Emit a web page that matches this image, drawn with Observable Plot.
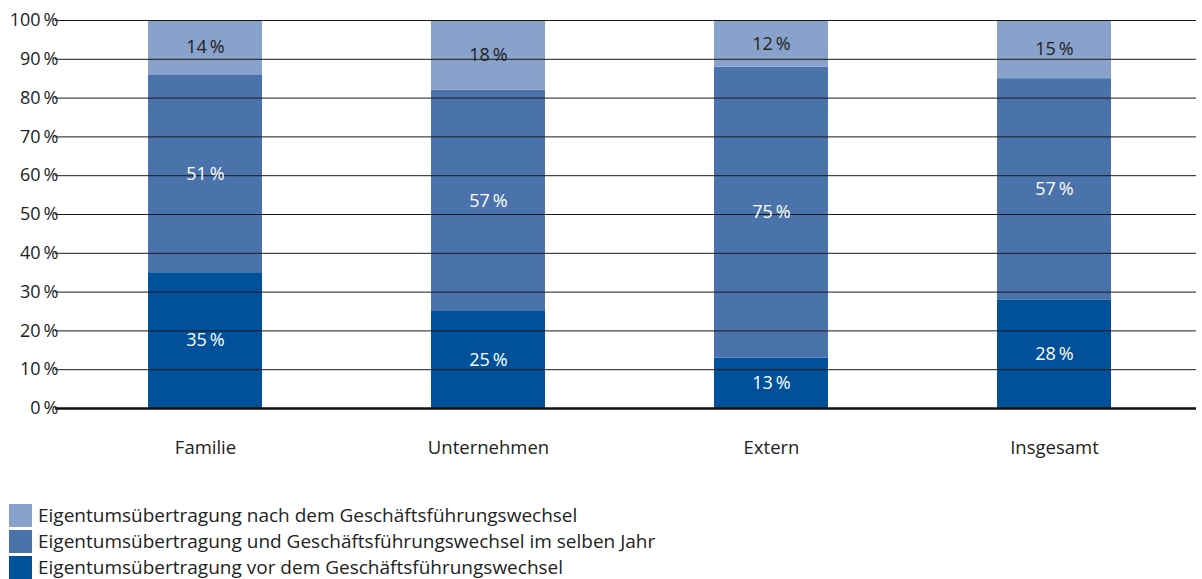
<!DOCTYPE html>
<html>
<head>
<meta charset="utf-8">
<script src="https://cdn.jsdelivr.net/npm/d3@7"></script>
<script src="https://cdn.jsdelivr.net/npm/@observablehq/plot@0.6"></script>
<style>
  body { margin: 0; background: #fff; font-family: "Open Sans", sans-serif; }
  #chart svg { display: block; }
  .legend { margin-top: 34px; margin-left: 9px; font-size: 19px; color: #222; line-height: 26px; }
  .legend .row { display: flex; align-items: center; height: 26px; }
  .legend .sw { width: 23px; height: 23px; margin-right: 6px; flex: none; }
</style>
</head>
<body>
<div id="chart"></div>
<div class="legend" id="legend"></div>
<script>
const categories = ["Familie", "Unternehmen", "Extern", "Insgesamt"];
const seriesNames = [
  "Eigentumsübertragung vor dem Geschäftsführungswechsel",
  "Eigentumsübertragung und Geschäftsführungswechsel im selben Jahr",
  "Eigentumsübertragung nach dem Geschäftsführungswechsel"
];
const vorValues = [35, 25, 13, 28];
const selbenJahrValues = [51, 57, 75, 57];
const nachValues = [14, 18, 12, 15];
const yTicks = [0, 10, 20, 30, 40, 50, 60, 70, 80, 90, 100];
const colors = ["#00519a", "#4a73ab", "#89a2cc"];
const textColors = ["#ffffff", "#ffffff", "#222222"];

const seriesValues = [vorValues, selbenJahrValues, nachValues];
const data = [];
categories.forEach((c, i) => {
  let base = 0;
  seriesValues.forEach((vals, s) => {
    data.push({cat: c, series: seriesNames[s], s, y1: base, y2: base + vals[i], v: vals[i]});
    base += vals[i];
  });
});

const pct = d => d + "\u2009%";

const plot = Plot.plot({
  width: 1202,
  height: 468,
  marginTop: 20,
  marginLeft: 55,
  marginRight: 6,
  marginBottom: 60,
  style: {fontFamily: "'Open Sans', sans-serif", fontSize: "17px", color: "#222", background: "#fff"},
  x: {domain: categories, range: [147, 1112], paddingInner: 0.598, paddingOuter: 0, label: null},
  y: {domain: [0, 100], label: null},
  color: {domain: seriesNames, range: colors},
  marks: [
    Plot.rectY(data, {x: "cat", y1: "y1", y2: "y2", fill: "series", insetLeft: 0, insetRight: 0}),
    Plot.ruleY(yTicks.filter(t => t > 0), {stroke: "#1a1a1a", strokeWidth: 1}),
    Plot.ruleY([0], {stroke: "#111", strokeWidth: 2.5}),
    Plot.text(data, {
      x: "cat", y: d => (d.y1 + d.y2) / 2, text: d => pct(d.v),
      fill: d => textColors[d.s], fontSize: 18, style: "letter-spacing: 1.5px"
    }),
    Plot.axisY({ticks: yTicks, tickSize: 0, tickPadding: -3, tickFormat: pct, fontSize: 18, textAnchor: "end"}),
    Plot.axisX({tickSize: 0, tickPadding: 32, fontSize: 18.5})
  ]
});
document.getElementById("chart").appendChild(plot);

const legend = document.getElementById("legend");
[2, 1, 0].forEach(s => {
  const row = document.createElement("div");
  row.className = "row";
  const sw = document.createElement("span");
  sw.className = "sw";
  sw.style.background = colors[s];
  const t = document.createElement("span");
  t.textContent = seriesNames[s];
  row.appendChild(sw);
  row.appendChild(t);
  legend.appendChild(row);
});
</script>
</body>
</html>
